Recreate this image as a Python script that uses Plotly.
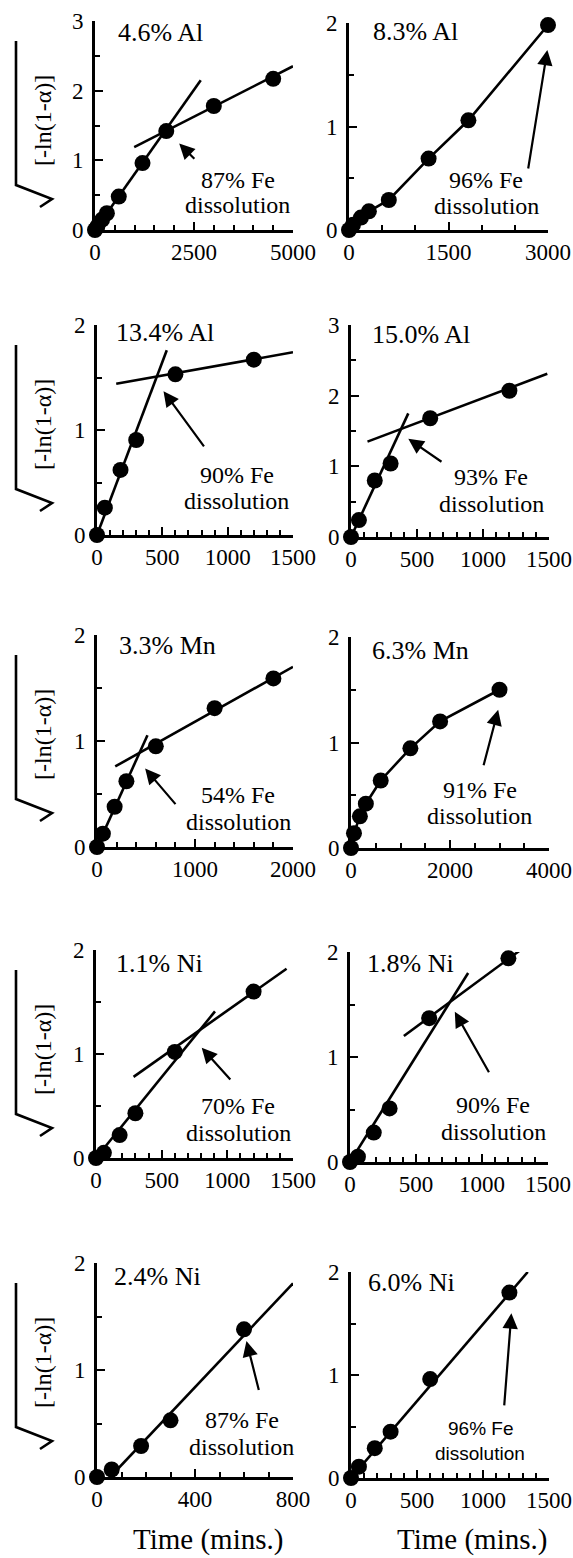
import plotly.graph_objects as go

W, H = 573, 1558
SERIF = "Liberation Serif, Times New Roman, serif"
SANS = "Liberation Sans, Arial, sans-serif"

# ---------------- data ----------------
# time (mins) and sqrt(-ln(1-alpha)) values, plus straight-line fits
t_al46 = [0, 60, 180, 300, 600, 1200, 1800, 3000, 4500]
r_al46 = [0.0, 0.05, 0.15, 0.24, 0.48, 0.96, 1.42, 1.78, 2.17]
fit1_t_al46, fit1_r_al46 = [0, 2670], [0.0, 2.15]
fit2_t_al46, fit2_r_al46 = [990, 5000], [1.19, 2.35]

t_al83 = [0, 60, 180, 300, 600, 1200, 1800, 3000]
r_al83 = [0.0, 0.05, 0.12, 0.18, 0.29, 0.69, 1.06, 1.98]

t_al134 = [0, 60, 180, 300, 600, 1200]
r_al134 = [0.0, 0.26, 0.62, 0.905, 1.53, 1.67]
fit1_t_al134, fit1_r_al134 = [0, 534], [0.0, 1.76]
fit2_t_al134, fit2_r_al134 = [147, 1500], [1.44, 1.74]

t_al150 = [0, 60, 180, 300, 600, 1200]
r_al150 = [0.0, 0.24, 0.80, 1.04, 1.68, 2.07]
fit1_t_al150, fit1_r_al150 = [0, 434], [0.0, 1.75]
fit2_t_al150, fit2_r_al150 = [125, 1487], [1.35, 2.31]

t_mn33 = [0, 60, 180, 300, 600, 1200, 1800]
r_mn33 = [0.0, 0.126, 0.38, 0.62, 0.95, 1.31, 1.59]
fit1_t_mn33, fit1_r_mn33 = [0, 515], [0.0, 1.055]
fit2_t_mn33, fit2_r_mn33 = [186, 2000], [0.76, 1.70]

t_mn63 = [0, 60, 180, 300, 600, 1200, 1800, 3000]
r_mn63 = [0.0, 0.14, 0.30, 0.42, 0.64, 0.945, 1.20, 1.50]

t_ni11 = [0, 60, 180, 300, 600, 1200]
r_ni11 = [0.0, 0.05, 0.22, 0.43, 1.02, 1.60]
fit1_t_ni11, fit1_r_ni11 = [0, 906], [0.0, 1.41]
fit2_t_ni11, fit2_r_ni11 = [286, 1451], [0.78, 1.82]

t_ni18 = [0, 60, 180, 300, 600, 1200]
r_ni18 = [0.0, 0.05, 0.28, 0.51, 1.37, 1.94]
fit1_t_ni18, fit1_r_ni18 = [0, 895], [0.0, 1.80]
fit2_t_ni18, fit2_r_ni18 = [408, 1336], [1.20, 2.06]

t_ni24 = [0, 60, 180, 300, 600]
r_ni24 = [0.0, 0.07, 0.29, 0.53, 1.38]
fit_t_ni24, fit_r_ni24 = [54, 800], [0.0, 1.81]

t_ni60 = [0, 60, 180, 300, 600, 1200]
r_ni60 = [0.0, 0.11, 0.29, 0.45, 0.96, 1.80]
fit_t_ni60, fit_r_ni60 = [0, 1339], [0.0, 2.0]

labels = ["4.6% Al", "8.3% Al", "13.4% Al", "15.0% Al", "3.3% Mn",
          "6.3% Mn", "1.1% Ni", "1.8% Ni", "2.4% Ni", "6.0% Ni"]
dissolution = ["87%", "96%", "90%", "93%", "54%", "91%", "70%", "90%", "87%", "96%"]

# ---------------- layout of each panel ----------------
panels = [
    dict(t=t_al46, r=r_al46, fits=[(fit1_t_al46, fit1_r_al46), (fit2_t_al46, fit2_r_al46)], connect=False,
         xr=5000, xmaj=2500, xmin=500, yr=3, box=(95, 293, 21, 230),
         lab=(530, 2.83), note=(3600, 0.72, 0.36), arrow=(2126, 1.24, 2546, 1.0)),
    dict(t=t_al83, r=r_al83, fits=[], connect=True,
         xr=3000, xmaj=1500, xmin=500, yr=2, box=(349, 548, 23, 230),
         lab=(337, 1.92), note=(2070, 0.48, 0.23), arrow=(2990, 1.74, 2698, 0.58)),
    dict(t=t_al134, r=r_al134, fits=[(fit1_t_al134, fit1_r_al134), (fit2_t_al134, fit2_r_al134)], connect=False,
         xr=1500, xmaj=500, xmin=100, yr=2, box=(97, 293, 325, 535),
         lab=(127, 1.93), note=(1068, 0.57, 0.32), arrow=(509, 1.37, 827, 0.83)),
    dict(t=t_al150, r=r_al150, fits=[(fit1_t_al150, fit1_r_al150), (fit2_t_al150, fit2_r_al150)], connect=False,
         xr=1500, xmaj=500, xmin=100, yr=3, box=(351, 549, 325, 537),
         lab=(145, 2.86), note=(1061, 0.85, 0.47), arrow=(434, 1.39, 697, 1.05)),
    dict(t=t_mn33, r=r_mn33, fits=[(fit1_t_mn33, fit1_r_mn33), (fit2_t_mn33, fit2_r_mn33)], connect=False,
         xr=2000, xmaj=1000, xmin=200, yr=2, box=(97, 293, 635, 847),
         lab=(203, 1.9), note=(1441, 0.49, 0.24), arrow=(491, 0.74, 814, 0.39)),
    dict(t=t_mn63, r=r_mn63, fits=[], connect=True,
         xr=4000, xmaj=2000, xmin=500, yr=2, box=(351, 549, 637, 848),
         lab=(389, 1.87), note=(2604, 0.55, 0.30), arrow=(2973, 1.31, 2671, 0.77)),
    dict(t=t_ni11, r=r_ni11, fits=[(fit1_t_ni11, fit1_r_ni11), (fit2_t_ni11, fit2_r_ni11)], connect=False,
         xr=1500, xmaj=500, xmin=100, yr=2, box=(96, 293, 950, 1158),
         lab=(134, 1.87), note=(1084, 0.50, 0.24), arrow=(805, 1.06, 1033, 0.74)),
    dict(t=t_ni18, r=r_ni18, fits=[(fit1_t_ni18, fit1_r_ni18), (fit2_t_ni18, fit2_r_ni18)], connect=False,
         xr=1500, xmaj=500, xmin=100, yr=2, box=(350, 548, 952, 1162),
         lab=(113, 1.89), note=(1084, 0.54, 0.29), arrow=(794, 1.43, 1059, 0.84)),
    dict(t=t_ni24, r=r_ni24, fits=[(fit_t_ni24, fit_r_ni24)], connect=False,
         xr=800, xmaj=400, xmin=100, yr=2, box=(97, 293, 1263, 1477),
         lab=(61, 1.875), note=(590, 0.53, 0.28), arrow=(610, 1.27, 662, 0.80)),
    dict(t=t_ni60, r=r_ni60, fits=[(fit_t_ni60, fit_r_ni60)], connect=False,
         xr=1500, xmaj=500, xmin=100, yr=2, box=(351, 549, 1272, 1478),
         lab=(112, 1.90), note=(980, 0.48, 0.24), arrow=(1215, 1.60, 1160, 0.69), sans=True),
]

fig = go.Figure()
annotations = []
shapes = []
LW = 2.6

for i, p in enumerate(panels, start=1):
    xa, ya = f"x{i}", f"y{i}"
    x0, x1, ytop, ybot = p["box"]
    # data markers (and connecting line where the original joins the points)
    fig.add_trace(go.Scatter(
        x=p["t"], y=p["r"], xaxis=xa, yaxis=ya,
        mode="lines+markers" if p["connect"] else "markers",
        marker=dict(size=16, color="black"), line=dict(color="black", width=LW),
        cliponaxis=False, showlegend=False, hoverinfo="skip"))
    for ft, fr in p["fits"]:
        fig.add_trace(go.Scatter(
            x=ft, y=fr, xaxis=xa, yaxis=ya, mode="lines",
            line=dict(color="black", width=LW), showlegend=False, hoverinfo="skip"))

    sfx = "" if i == 1 else str(i)
    fig.layout["xaxis" + sfx] = dict(
        domain=[x0 / W, x1 / W], anchor=ya, range=[0, p["xr"]], automargin=False,
        tickmode="linear", tick0=0, dtick=p["xmaj"],
        ticks="inside", ticklen=8, tickwidth=2, tickcolor="black",
        minor=dict(tick0=0, dtick=p["xmin"], ticks="inside", ticklen=5, tickwidth=2, tickcolor="black"),
        showline=True, linecolor="black", linewidth=LW, showgrid=False, zeroline=False,
        tickfont=dict(family=SERIF, size=23, color="black"), ticklabeloverflow="allow",
        fixedrange=True)
    fig.layout["yaxis" + sfx] = dict(
        domain=[1 - ybot / H, 1 - ytop / H], anchor=xa, range=[0, p["yr"]], automargin=False,
        tickmode="linear", tick0=0, dtick=1,
        ticks="inside", ticklen=8, tickwidth=2, tickcolor="black",
        minor=dict(tick0=0, dtick=0.5, ticks="inside", ticklen=5, tickwidth=2, tickcolor="black"),
        showline=True, linecolor="black", linewidth=LW, showgrid=False, zeroline=False,
        tickfont=dict(family=SERIF, size=23, color="black"), ticklabelstandoff=4,
        fixedrange=True)

    # composition label
    annotations.append(dict(
        x=p["lab"][0], y=p["lab"][1], xref=xa, yref=ya, text=labels[i - 1],
        showarrow=False, xanchor="left", yanchor="middle",
        font=dict(family=SERIF, size=26, color="black")))
    # dissolution note (two lines)
    nfont = dict(family=SANS, size=19, color="black") if p.get("sans") else \
        dict(family=SERIF, size=24, color="black")
    nx, ny1, ny2 = p["note"]
    annotations.append(dict(x=nx, y=ny1, xref=xa, yref=ya, text=f"{dissolution[i - 1]} Fe",
                            showarrow=False, xanchor="center", yanchor="middle", font=nfont))
    annotations.append(dict(x=nx, y=ny2, xref=xa, yref=ya, text="dissolution",
                            showarrow=False, xanchor="center", yanchor="middle", font=nfont))
    hx, hy, tx, ty = p["arrow"]
    annotations.append(dict(x=hx, y=hy, xref=xa, yref=ya, ax=tx, ay=ty, axref=xa, ayref=ya,
                            text="", showarrow=True, arrowhead=2, arrowsize=1.4,
                            arrowwidth=2.2, arrowcolor="black", standoff=0, startstandoff=0))

    # y-axis title with a radical sign on the left column
    if i % 2 == 1:
        annotations.append(dict(
            x=43 / W, y=1 - (ytop + 100) / H, xref="paper", yref="paper",
            text="[-ln(1-\u03b1)]", textangle=-90, showarrow=False,
            xanchor="center", yanchor="middle",
            font=dict(family=SERIF, size=24, color="black")))
        pts = [(16, ytop + 20), (16, ytop + 164), (52, ytop + 178), (40, ytop + 186)]
        path = "M " + " L ".join(f"{px / W:.5f},{1 - py / H:.5f}" for px, py in pts)
        shapes.append(dict(type="path", xref="paper", yref="paper", path=path,
                           line=dict(color="black", width=2.6)))

# x-axis titles under the last row
annotations.append(dict(x=208 / W, y=1 - 1539 / H, xref="paper", yref="paper", text="Time (mins.)",
                        showarrow=False, xanchor="center", yanchor="middle",
                        font=dict(family=SERIF, size=29, color="black")))
annotations.append(dict(x=472 / W, y=1 - 1539 / H, xref="paper", yref="paper", text="Time (mins.)",
                        showarrow=False, xanchor="center", yanchor="middle",
                        font=dict(family=SERIF, size=29, color="black")))

fig.update_layout(
    width=W, height=H, margin=dict(l=0, r=0, t=0, b=0, autoexpand=False),
    paper_bgcolor="white", plot_bgcolor="white",
    annotations=annotations, shapes=shapes, showlegend=False,
    font=dict(family=SERIF, color="black"))

fig.write_html("out.html", config=dict(displayModeBar=False),
               post_script="document.body.style.margin='0';")
